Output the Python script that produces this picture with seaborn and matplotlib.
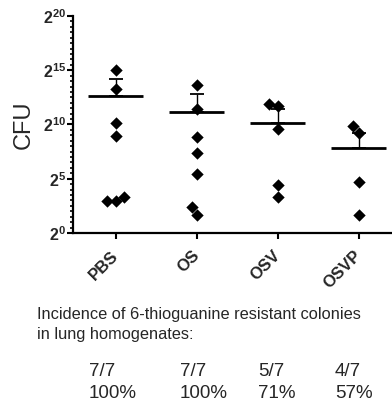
# %%
import numpy as np
import pandas as pd
import matplotlib
matplotlib.use("Agg")
from matplotlib import pyplot as plt
from matplotlib.ticker import FixedLocator, NullFormatter
import seaborn as sns

# %% Data (CFU per lung, 0 = no resistant colonies)
groups = ["PBS", "OS", "OSV", "OSVP"]
cfu_pbs = [32768, 9740, 1100, 478, 10, 7.5, 7.5]
cfu_os = [13000, 2700, 471, 163, 44, 5.2, 3.2]
cfu_osv = [3795, 3327, 765, 21, 10, 0, 0]
cfu_osvp = [929, 605, 25.5, 3.2, 0, 0, 0]

yExp = [0, 5, 10, 15, 20]

# %%
data = pd.DataFrame({
    "group": np.repeat(groups, 7),
    "cfu": cfu_pbs + cfu_os + cfu_osv + cfu_osvp,
})
data["cfu_plot"] = data["cfu"].where(data["cfu"] > 0)

stats = data.groupby("group", sort=False)["cfu"].agg(["mean", "std"]).reindex(groups)
hits = data.groupby("group", sort=False)["cfu"].agg(lambda s: (s > 0).sum()).reindex(groups)
total = data.groupby("group", sort=False)["cfu"].size().reindex(groups)

# %% Plot
sns.set_style("ticks")
plt.rcParams["font.family"] = ["Liberation Sans", "DejaVu Sans"]
plt.rcParams["mathtext.fontset"] = "custom"
plt.rcParams["mathtext.rm"] = "Liberation Sans"
plt.rcParams["mathtext.bf"] = "Liberation Sans:bold"

my_dpi = 100
fig = plt.figure(figsize=(392/my_dpi, 407/my_dpi), dpi=my_dpi)
ax = fig.add_axes([73/392, 1-233/407, 1-73/392, 217/407])
ax.set_yscale("log", base=2)

sns.swarmplot(data=data, x="group", y="cfu_plot", order=groups, marker="D",
              color="black", size=6.3, linewidth=0, ax=ax, zorder=4)

xpos = np.arange(len(groups))
ax.hlines(stats["mean"], xpos-0.34, xpos+0.34, color="black", lw=2, zorder=3)
ax.errorbar(xpos, stats["mean"], yerr=[np.zeros(len(groups)), stats["std"]],
            fmt="none", ecolor="black", elinewidth=1, capsize=5, capthick=1.3, zorder=3)

ax.set_xlim(-0.53, 3.41)
ax.set_ylim(2**0, 2**20)
ax.set_yticks([2**e for e in yExp])
ax.set_yticklabels([r"$\mathbf{2^{%d}}$" % e for e in yExp], fontsize=11.5)
ax.yaxis.set_minor_locator(FixedLocator(2**np.arange(0, 20.5, 0.5)))
ax.yaxis.set_minor_formatter(NullFormatter())
ax.tick_params(axis="y", which="major", length=4, width=1.5, pad=1, color="black")
ax.tick_params(axis="y", which="minor", length=2.5, width=1.2, color="black")
ax.tick_params(axis="x", length=4.5, width=1.5, pad=10, color="black")
for lbl in ax.get_xticklabels():
    lbl.set_rotation(45)
    lbl.set_ha("right")
    lbl.set_va("center")
    lbl.set_rotation_mode("anchor")
    lbl.set_fontsize(12)
    lbl.set_fontweight("bold")

ax.set_xlabel("")
ax.set_ylabel("CFU", fontsize=17)
ax.yaxis.set_label_coords(-0.12, 0.5)
for side in ["left", "bottom"]:
    ax.spines[side].set_linewidth(1.6)
    ax.spines[side].set_color("black")
sns.despine(ax=ax)

# Incidence text
fig.text(37/392, 1-314/407, "Incidence of 6-thioguanine resistant colonies",
         fontsize=11.8, va="center", ha="left")
fig.text(37/392, 1-335/407, "in lung homogenates:", fontsize=11.8, va="center", ha="left")
colX = [89/392, 180/392, 258/392, 335/392]
for i, g in enumerate(groups):
    fig.text(colX[i], 1-371/407, "{}/{}".format(hits[g], total[g]), fontsize=13.5,
             va="center", ha="left")
    fig.text(colX[i], 1-393/407, "{:.0f}%".format(100*hits[g]/total[g]), fontsize=13.5,
             va="center", ha="left")

plt.savefig("out.png", dpi=my_dpi)
plt.close()
